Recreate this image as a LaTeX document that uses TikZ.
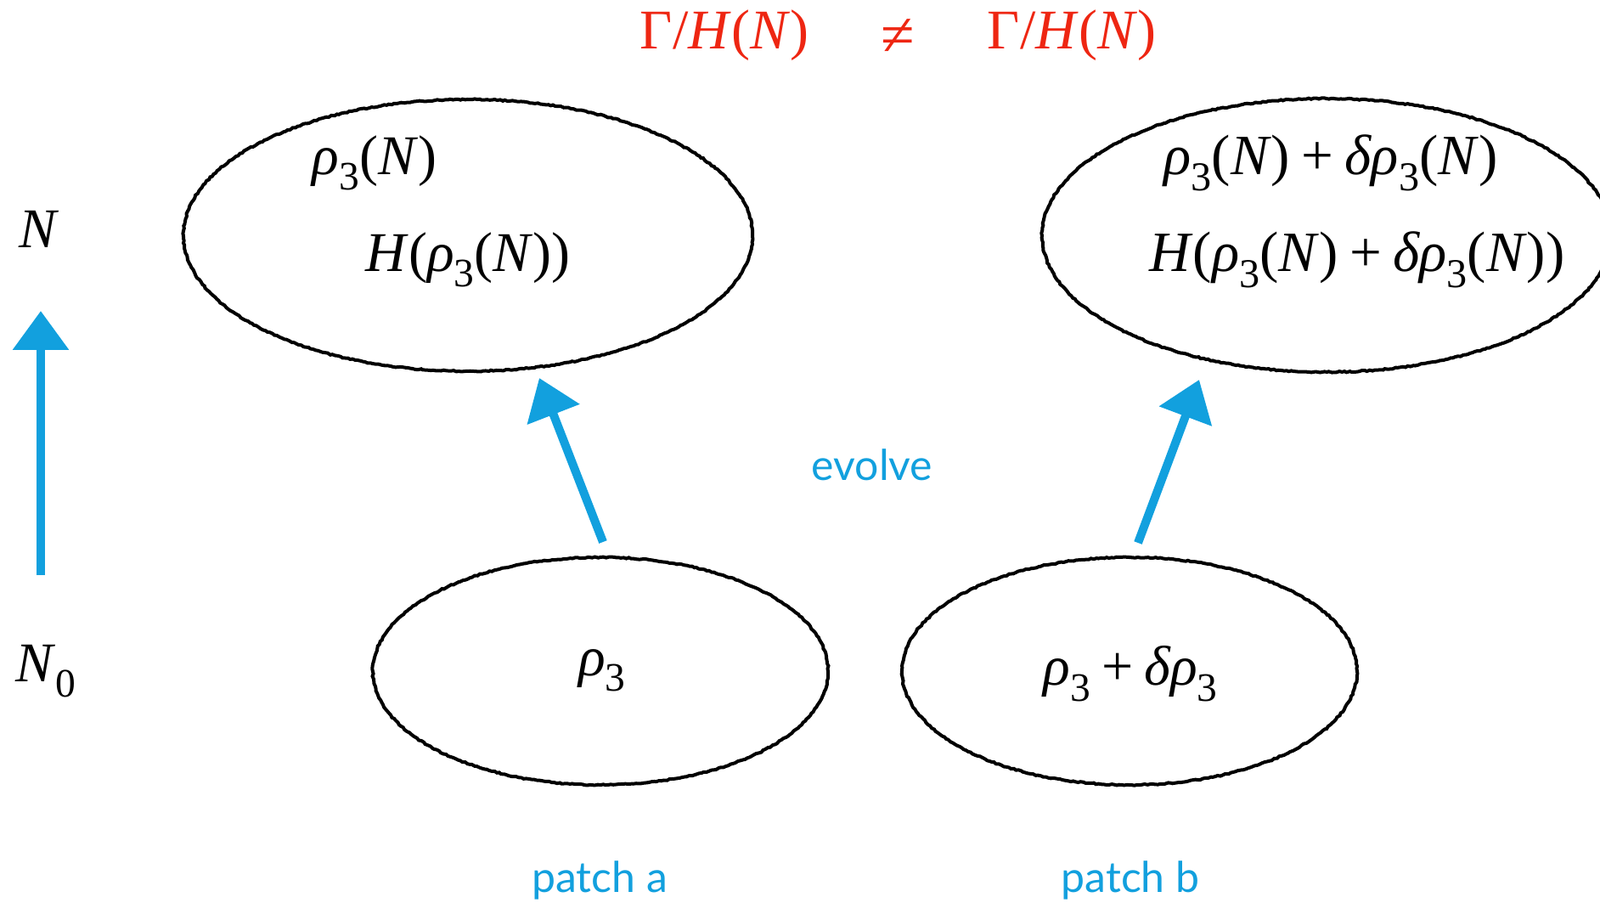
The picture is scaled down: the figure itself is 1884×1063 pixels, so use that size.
\documentclass[tikz,border=0pt]{standalone}
\usepackage{fontspec}
\setmainfont{Liberation Serif}
\newfontfamily\labelfont{Lato}
\usetikzlibrary{arrows.meta,shapes.geometric,decorations.pathmorphing}
\definecolor{kblue}{RGB}{18,160,222}
\definecolor{kred}{RGB}{238,38,18}
\newcommand\vi[1]{\textit{#1}}
\newcommand\lowsub[1]{\raisebox{-0.28em}{\fontsize{0.72em}{0.8em}\selectfont #1}}
\newcommand\plus{\hspace{0.2em}+\hspace{0.2em}}
\begin{document}
\begin{tikzpicture}[x=0.5pt,y=-0.5pt,
  blob/.style={draw=black,line width=2pt,ellipse,inner sep=0pt,
    decorate,decoration={random steps,segment length=1.5pt,amplitude=0.35pt}},
  mathtext/.style={font=\fontsize{33}{38}\selectfont,inner sep=0pt},
  bigmath/.style={font=\fontsize{33.5}{38}\selectfont,inner sep=0pt},
  redtext/.style={font=\fontsize{33}{38}\selectfont,text=kred,inner sep=0pt},
  bluelabel/.style={font=\labelfont\fontsize{25}{30}\selectfont,text=kblue,inner sep=0pt},
  flow/.style={draw=kblue,line width=5pt,-{Triangle[length=23pt,width=32pt]}}]
\useasboundingbox (0,0) rectangle (1884,1063);
% ellipses
\node[blob,minimum width=335pt,minimum height=160pt] (topA) at (551,277) {};
\node[blob,minimum width=335pt,minimum height=161pt] (topB) at (1562,277) {};
\node[blob,minimum width=268pt,minimum height=134pt] (botA) at (707,790) {};
\node[blob,minimum width=268pt,minimum height=134pt] (botB) at (1330,790) {};
% red header
\node[redtext] (gl) at (853,42) {Γ/\vi{H}(\vi{N})};
\node[redtext,font=\fontsize{36}{40}\selectfont] (ne) at (1057,44) {≠};
\node[redtext] (gr) at (1262,42) {Γ/\vi{H}(\vi{N})};
% texts in ellipses
\node[mathtext] (ta1) at (441,192) {\vi{ρ}\lowsub{3}(\vi{N})};
\node[mathtext] (ta2) at (551,306) {\vi{H}(\vi{ρ}\lowsub{3}(\vi{N}))};
\node[bigmath] (tb1) at (1567,192) {\vi{ρ}\lowsub{3}(\vi{N})\plus\vi{δρ}\lowsub{3}(\vi{N})};
\node[bigmath] (tb2) at (1598,306) {\vi{H}(\vi{ρ}\lowsub{3}(\vi{N})\plus\vi{δρ}\lowsub{3}(\vi{N}))};
\node[mathtext] (ba) at (709,789) {\vi{ρ}\lowsub{3}};
\node[mathtext] (bb) at (1331,793) {\vi{ρ}\lowsub{3}\plus\vi{δρ}\lowsub{3}};
% axis labels
\node[mathtext] (lN) at (46,270) {\vi{N}};
\node[mathtext] (lN0) at (54,790) {\vi{N}\lowsub{0}};
% blue labels
\node[bluelabel] (ev) at (1027,547) {evolve};
\node[bluelabel] (pa) at (706,1036) {patch a};
\node[bluelabel] (pb) at (1331,1036) {patch b};
% arrows
\coordinate (axS) at (48,677);
\coordinate (axE) at (48,366);
\coordinate (aS) at (710,638);
\coordinate (aE) at (635,445);
\coordinate (bS) at (1340,639);
\coordinate (bE) at (1412,447);
\draw[flow] (axS) -- (axE);
\draw[flow] (aS) -- (aE);
\draw[flow] (bS) -- (bE);
\end{tikzpicture}
\end{document}
